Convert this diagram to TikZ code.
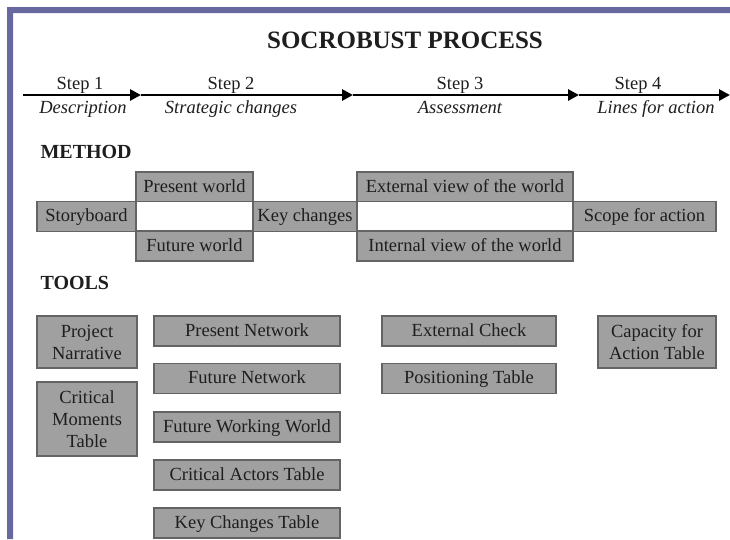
\documentclass[tikz,border=0pt]{standalone}
\usepackage{fontspec}
\setmainfont{Liberation Serif}
\usetikzlibrary{arrows.meta}
\definecolor{frame}{RGB}{104,104,160}
\definecolor{boxgray}{RGB}{160,160,160}
\definecolor{boxline}{RGB}{100,100,100}
\definecolor{ink}{RGB}{30,30,30}
\begin{document}
\begin{tikzpicture}[x=1pt,y=-1pt]
\tikzset{Box/.style = {draw=boxline, fill=boxgray, line width=1.2pt, inner sep=0pt, minimum height=30pt, align=center, text=ink, font=\fontsize{18.5}{22}\selectfont},
OneBox/.style = {Box, text height=13.5pt, text depth=3pt},
WBox/.style = {Box, fill=white},
StepText/.style = {anchor=base, text=ink, font=\fontsize{18.5}{22}\selectfont},
StepName/.style = {StepText, font=\fontsize{18.5}{22}\selectfont\itshape},
Head/.style = {anchor=west, text=ink, font=\fontsize{20}{24}\selectfont\bfseries}}
\useasboundingbox[fill=white] (0,0) rectangle (730,539);
\fill[frame] (7,7) rectangle (730,13) (7,7) rectangle (13,539);
\node[text=ink, font=\fontsize{25}{30}\selectfont\bfseries] (title) at (405,40) {SOCROBUST PROCESS};
\coordinate (s0) at (23,95); \coordinate (s1) at (141,95); \coordinate (s2) at (353,95); \coordinate (s3) at (579,95); \coordinate (s4) at (730,95);
\foreach \i/\j in {0/1,1/2,2/3,3/4}
  \draw[line width=2.8pt, -{Triangle[length=11pt,width=11pt]}] (s\i) -- (s\j);
\node[StepText] (st1) at (80,89) {Step 1}; \node[StepText] (st2) at (231,89) {Step 2}; \node[StepText] (st3) at (460,89) {Step 3}; \node[StepText] (st4) at (638,89) {Step 4};
\node[StepName] (d1) at (83,113) {Description}; \node[StepName] (d2) at (231,113) {Strategic changes};
\node[StepName] (d3) at (460,113) {Assessment}; \node[StepName] (d4) at (656,113) {Lines for action};
\node[Head] (method) at (37,152) {METHOD};
\node[OneBox, minimum width=99pt] (story) at (86.5,216.5) {Storyboard};
\node[OneBox, minimum width=117pt] (present) at (194.5,187) {Present world};
\node[WBox, minimum width=117pt] (gap1) at (194.5,216.5) {};
\node[OneBox, minimum width=117pt] (future) at (194.5,246) {Future world};
\node[OneBox, minimum width=104pt] (keych) at (305,216.5) {Key changes};
\node[OneBox, minimum width=216pt] (extview) at (465,187) {External view of the world};
\node[WBox, minimum width=216pt] (gap2) at (465,216.5) {};
\node[OneBox, minimum width=216pt] (intview) at (465,246) {Internal view of the world};
\node[OneBox, minimum width=143pt] (scope) at (644.5,216.5) {Scope for action};
\node[Head] (tools) at (37,283) {TOOLS};
\node[Box, minimum width=100pt, minimum height=52pt] (narr) at (87,342) {Project\\Narrative};
\node[Box, minimum width=100pt, minimum height=74pt] (moments) at (87,419) {Critical\\Moments\\Table};
\node[OneBox, minimum width=186pt] (presnet) at (247,331) {Present Network};
\node[OneBox, minimum width=186pt] (futnet) at (247,378.5) {Future Network};
\node[OneBox, minimum width=186pt] (futwork) at (247,427) {Future Working World};
\node[OneBox, minimum width=186pt] (actors) at (247,475) {Critical Actors Table};
\node[OneBox, minimum width=186pt] (keytab) at (247,523) {Key Changes Table};
\node[OneBox, minimum width=174pt] (extcheck) at (469,331) {External Check};
\node[OneBox, minimum width=174pt] (postab) at (469,378.5) {Positioning Table};
\node[Box, minimum width=118pt, minimum height=52pt] (capacity) at (657,342) {Capacity for\\Action Table};
\end{tikzpicture}
\end{document}
